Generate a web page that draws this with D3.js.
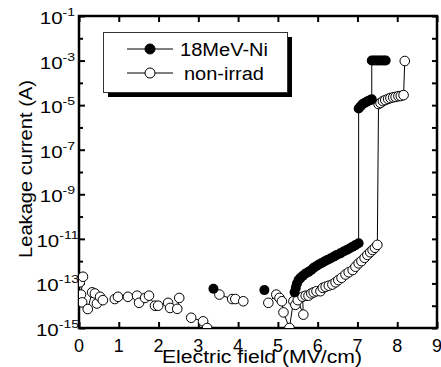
<!DOCTYPE html>
<html>
<head>
<meta charset="utf-8">
<script src="https://cdn.jsdelivr.net/npm/d3@7"></script>
<style>
  body { margin: 0; background: #fff; }
  svg { display: block; font-family: "Liberation Sans", Arial, sans-serif; }
  .domain { display: none; }
</style>
</head>
<body>
<div class="result"></div>
<script>
// Data: [electric field (MV/cm), log10 leakage current (A)], null breaks the line
const irradiated = [
  [3.38, -13.24], null,
  [4.66, -13.3], null,
  [5.42, -13.4], [5.45, -13.2], [5.48, -13.0], [5.52, -12.85], [5.57, -12.75], [5.63, -12.65],
  [5.7, -12.55], [5.77, -12.48], [5.84, -12.4], [5.9, -12.3], [5.97, -12.22], [6.03, -12.15],
  [6.1, -12.08], [6.17, -12.02], [6.24, -11.95], [6.32, -11.88], [6.4, -11.8], [6.48, -11.72],
  [6.57, -11.65], [6.65, -11.57], [6.73, -11.5], [6.8, -11.43], [6.88, -11.35], [6.95, -11.28],
  [7.03, -11.2], [7.03, -5.15], [7.08, -5.05], [7.13, -4.95], [7.18, -4.9], [7.23, -4.85],
  [7.28, -4.8], [7.33, -4.77], [7.36, -4.74], [7.36, -3.0], [7.42, -3.0], [7.48, -3.0],
  [7.54, -3.0], [7.6, -3.0], [7.66, -3.0], [7.71, -3.0]
];

const nonIrrad = [
  [0.02, -12.95], [0.1, -12.7], [0.05, -13.5], [0.08, -13.85], [0.22, -14.15], [0.33, -13.4],
  [0.4, -13.45], [0.45, -13.9], [0.53, -13.6], [0.6, -13.75], null,
  [0.9, -13.7], [0.98, -13.6], [1.23, -13.6], [1.46, -13.55], [1.51, -13.87], [1.66, -13.65],
  [1.76, -13.55], [1.91, -14.0], [1.99, -14.0], [2.24, -13.87], [2.29, -14.1], [2.47, -14.14],
  [2.52, -13.65], null, [2.82, -14.54], [3.12, -14.7], [3.22, -15.0], null,
  [3.53, -13.5], [3.85, -13.7], [3.93, -13.7], [4.13, -13.8], null,
  [4.76, -13.87], [4.96, -13.5], [5.04, -13.65], [5.1, -13.8], [5.14, -14.3], [5.29, -15.0],
  [5.39, -13.8], [5.44, -13.96], [5.5, -13.75], [5.64, -14.4], [5.62, -13.6], [5.7, -13.55],
  [5.77, -13.55], [5.84, -13.45], [5.9, -13.4], [5.97, -13.35], [6.07, -13.35], [6.13, -13.2],
  [6.2, -13.15], [6.28, -13.1], [6.37, -13.05], [6.45, -12.95], [6.52, -12.85], [6.6, -12.75],
  [6.7, -12.6], [6.78, -12.5], [6.88, -12.4], [6.95, -12.25], [7.03, -12.1], [7.1, -12.0],
  [7.18, -11.85], [7.25, -11.72], [7.32, -11.6], [7.38, -11.5], [7.44, -11.4], [7.5, -11.27],
  [7.53, -4.95], [7.58, -4.9], [7.64, -4.82], [7.7, -4.77], [7.77, -4.72], [7.83, -4.68],
  [7.9, -4.65], [7.96, -4.63], [8.03, -4.6], [8.09, -4.59], [8.16, -4.55], [8.19, -3.02]
];

const xTicks = [0, 1, 2, 3, 4, 5, 6, 7, 8, 9];
const yExponents = [-1, -2, -3, -4, -5, -6, -7, -8, -9, -10, -11, -12, -13, -14, -15];
const legendLabels = ['18MeV-Ni', 'non-irrad'];

// Size
const w = 441;
const h = 367;
const pLeft = 79, pRight = 437, pTop = 16, pBottom = 328;

const xScale = d3.scaleLinear().domain([0, 9]).range([pLeft, pRight]);
const yScale = d3.scaleLinear().domain([-15, -1]).range([pBottom, pTop]);

const svg = d3.select('.result')
  .append('svg')
  .attr('width', w)
  .attr('height', h);

// Clip for the data
svg.append('clipPath').attr('id', 'plot')
  .append('rect')
  .attr('x', pLeft).attr('y', pTop)
  .attr('width', pRight - pLeft).attr('height', pBottom - pTop);

// Axes (ticks pointing inwards)
const majorY = yExponents.filter(e => e % 2 !== 0);
const minorY = yExponents.filter(e => e % 2 === 0);

svg.append('g')
  .attr('transform', 'translate(0,' + pBottom + ')')
  .call(d3.axisBottom(xScale).tickValues(xTicks).tickSize(-6).tickFormat(''));
svg.append('g')
  .attr('transform', 'translate(0,' + pTop + ')')
  .call(d3.axisTop(xScale).tickValues(xTicks).tickSize(-6).tickFormat(''));
svg.append('g')
  .attr('transform', 'translate(' + pLeft + ',0)')
  .call(d3.axisLeft(yScale).tickValues(majorY).tickSize(-6).tickFormat(''));
svg.append('g')
  .attr('transform', 'translate(' + pLeft + ',0)')
  .call(d3.axisLeft(yScale).tickValues(minorY).tickSize(-4).tickFormat(''));
svg.append('g')
  .attr('transform', 'translate(' + pRight + ',0)')
  .call(d3.axisRight(yScale).tickValues(yExponents).tickSize(-5).tickFormat(''));
svg.selectAll('.tick line').attr('stroke', '#000').attr('stroke-width', 2);

// Frame
svg.append('rect')
  .attr('x', pLeft).attr('y', pTop)
  .attr('width', pRight - pLeft).attr('height', pBottom - pTop)
  .attr('fill', 'none').attr('stroke', '#000').attr('stroke-width', 2.5);

// X tick labels
svg.selectAll('.xlab')
  .data(xTicks)
  .enter()
  .append('text')
  .attr('x', d => xScale(d))
  .attr('y', pBottom + 24)
  .attr('text-anchor', 'middle')
  .attr('font-size', 18)
  .text(d => d);

// Y tick labels 10^n (glyphs a bit wide, as in the original)
const ylab = svg.selectAll('.ylab')
  .data(majorY)
  .enter()
  .append('text')
  .attr('transform', d => 'translate(57.5,' + (yScale(d) + 8) + ') scale(1.28,1)')
  .attr('text-anchor', 'middle')
  .attr('font-size', 16);
ylab.append('tspan').text('10');
ylab.append('tspan').attr('dy', -8).attr('font-size', 11).text(d => '-' + Math.abs(d));

// Axis titles
svg.append('text')
  .attr('x', 162).attr('y', 363)
  .attr('font-size', 18)
  .attr('textLength', 200).attr('lengthAdjust', 'spacingAndGlyphs')
  .text('Electric field (MV/cm)');
svg.append('text')
  .attr('transform', 'translate(32,258) rotate(-90)')
  .attr('font-size', 18)
  .attr('textLength', 178).attr('lengthAdjust', 'spacingAndGlyphs')
  .text('Leakage current (A)');

// Lines and markers
const line = d3.line()
  .defined(d => d !== null)
  .x(d => xScale(d[0]))
  .y(d => yScale(d[1]));

const plot = svg.append('g').attr('clip-path', 'url(#plot)');

plot.append('path').datum(nonIrrad)
  .attr('d', line).attr('fill', 'none').attr('stroke', '#000').attr('stroke-width', 1);
plot.append('path').datum(irradiated)
  .attr('d', line).attr('fill', 'none').attr('stroke', '#000').attr('stroke-width', 1);

plot.selectAll('.open')
  .data(nonIrrad.filter(d => d !== null))
  .enter()
  .append('circle')
  .attr('cx', d => xScale(d[0]))
  .attr('cy', d => yScale(d[1]))
  .attr('r', 4.8)
  .attr('fill', '#fff').attr('stroke', '#000').attr('stroke-width', 1);

plot.selectAll('.filled')
  .data(irradiated.filter(d => d !== null))
  .enter()
  .append('circle')
  .attr('cx', d => xScale(d[0]))
  .attr('cy', d => yScale(d[1]))
  .attr('r', 5)
  .attr('fill', '#000');

// Legend with shadow
svg.append('rect')
  .attr('x', 108).attr('y', 37).attr('width', 184).attr('height', 60)
  .attr('fill', '#000');
svg.append('rect')
  .attr('x', 103.5).attr('y', 32.5).attr('width', 184).attr('height', 60)
  .attr('fill', '#fff').attr('stroke', '#333').attr('stroke-width', 1);

const legendWidths = [88, 80];
const legend = svg.selectAll('.legend')
  .data(legendLabels)
  .enter()
  .append('g')
  .attr('transform', (d, i) => 'translate(0,' + (49 + i * 24) + ')');
legend.append('line')
  .attr('x1', 127).attr('x2', 173)
  .attr('stroke', '#000').attr('stroke-width', 1);
legend.append('circle')
  .attr('cx', 150).attr('r', 5)
  .attr('fill', (d, i) => i === 0 ? '#000' : '#fff')
  .attr('stroke', '#000');
legend.append('text')
  .attr('x', (d, i) => 224 - legendWidths[i] / 2).attr('y', 6.5)
  .attr('font-size', 18)
  .attr('textLength', (d, i) => legendWidths[i]).attr('lengthAdjust', 'spacingAndGlyphs')
  .text(d => d);
</script>
</body>
</html>
